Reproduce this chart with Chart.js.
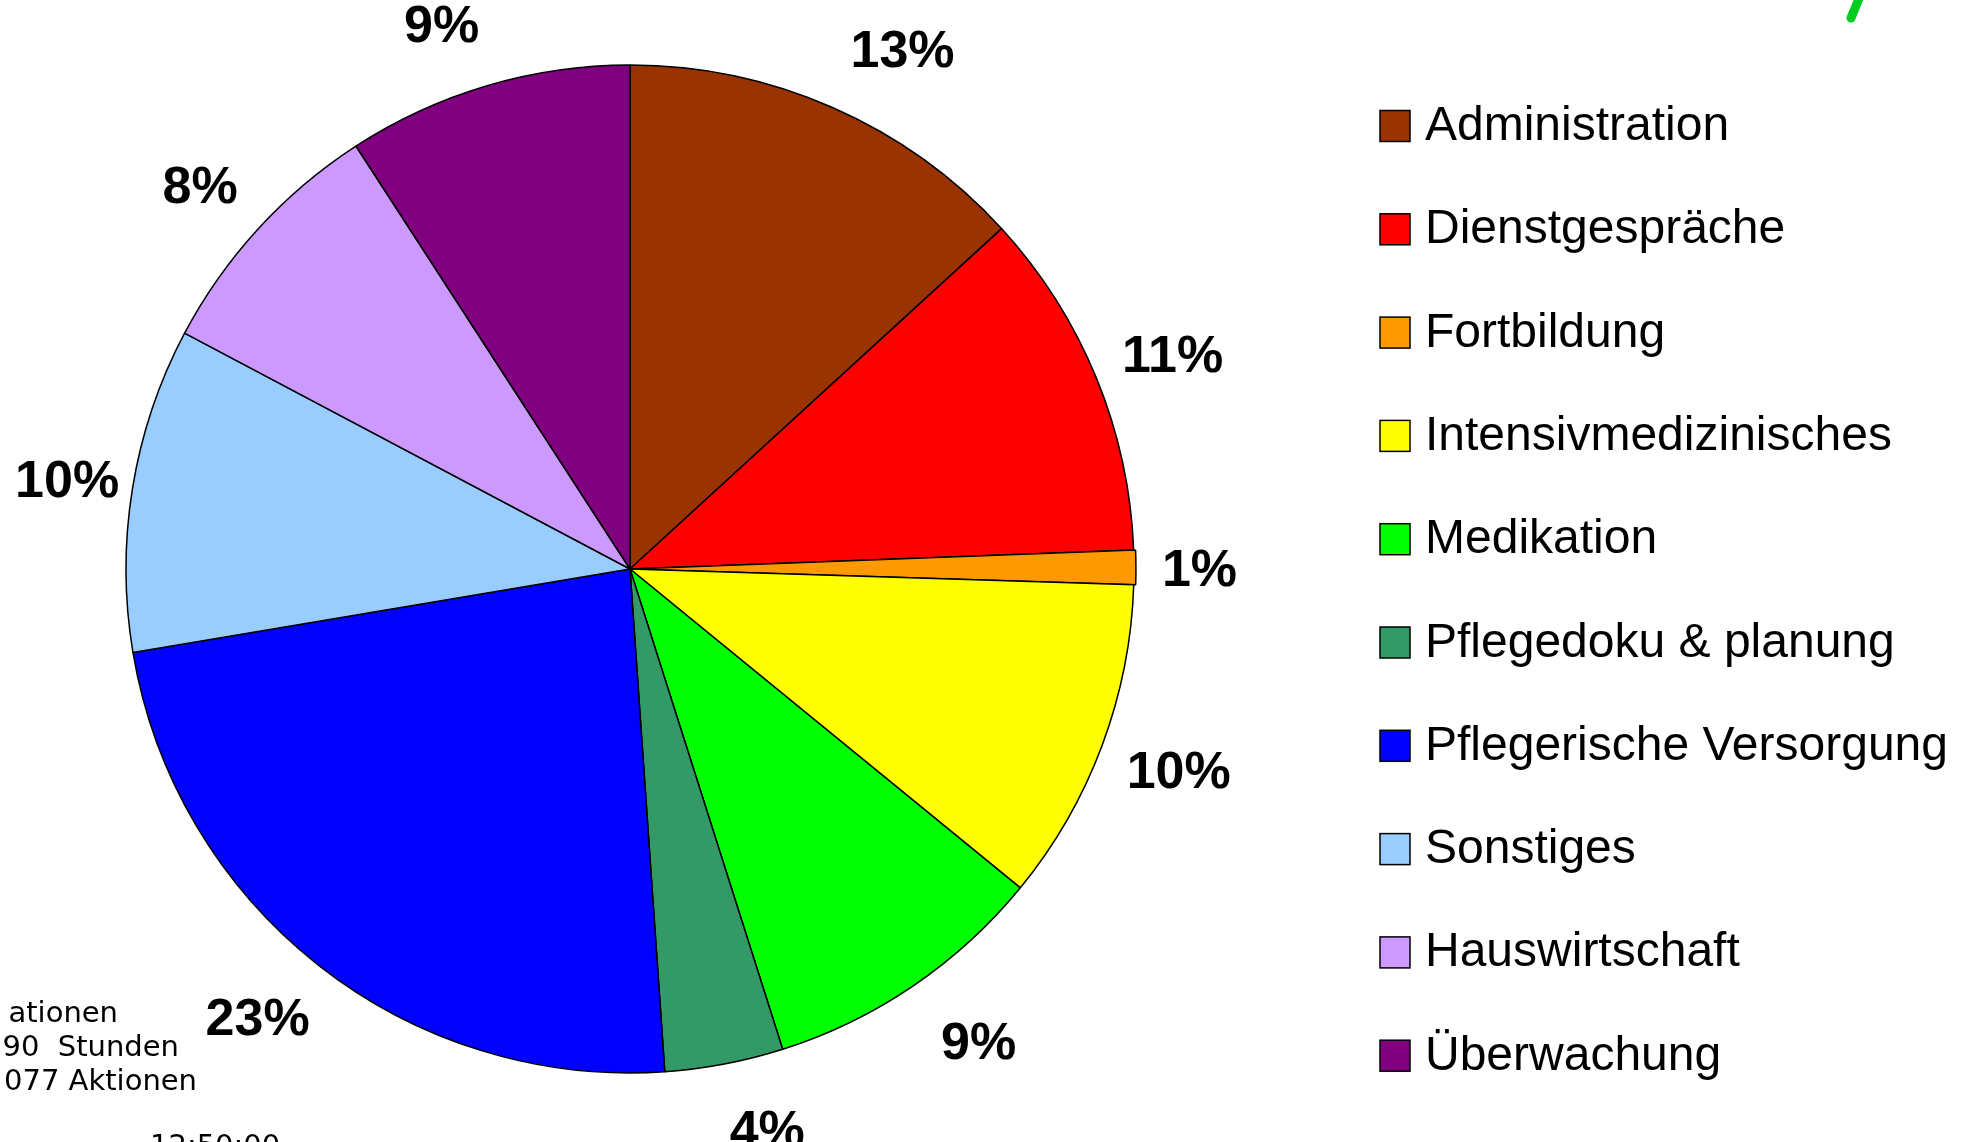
<!DOCTYPE html>
<html>
<head>
<meta charset="utf-8">
<script src="https://cdn.jsdelivr.net/npm/chart.js@4"></script>
<style>
  html, body { margin: 0; padding: 0; background: #fff; }
  #wrap { width: 1968px; height: 1142px; position: relative; }
</style>
</head>
<body>
<div id="wrap"><canvas id="pieChart"></canvas></div>
<script>
const categories = ['Administration', 'Dienstgespräche', 'Fortbildung', 'Intensivmedizinisches', 'Medikation',
    'Pflegedoku & planung', 'Pflegerische Versorgung', 'Sonstiges', 'Hauswirtschaft', 'Überwachung'];
const shares = [13.2, 11.2, 1.1, 10.4, 9.2, 3.8, 23.45, 10.4, 8.1, 9.15];
const sliceColors = ['#993300', '#ff0000', '#ff9900', '#ffff00', '#00ff00',
    '#339966', '#0000ff', '#99ccff', '#cc99ff', '#800080'];
const sliceOffsets = [0, 0, 4, 0, 0, 0, 0, 0, 0, 0];
const footnoteLines = ['ationen', '90  Stunden', '077 Aktionen'];
const timeStamp = '12:50:00';

document.addEventListener('DOMContentLoaded', function() {
    const ctx = document.getElementById('pieChart').getContext('2d');

    // percent labels outside the slices, pushed sideways a bit like the office chart does
    const pctLabels = {
        id: 'pctLabels',
        afterDatasetsDraw(chart) {
            const c = chart.ctx;
            const meta = chart.getDatasetMeta(0);
            const total = shares.reduce((a, b) => a + b, 0);
            c.save();
            c.font = 'bold 52px "Liberation Sans", Arial, sans-serif';
            c.fillStyle = '#000';
            c.textAlign = 'center';
            c.textBaseline = 'alphabetic';
            meta.data.forEach((arc, i) => {
                const p = arc.getProps(['x', 'y', 'startAngle', 'endAngle', 'outerRadius'], true);
                const mid = (p.startAngle + p.endAngle) / 2;
                const txt = Math.round(shares[i] / total * 100) + '%';
                const w = c.measureText(txt).width;
                const r = p.outerRadius * 1.13;
                const cs = Math.cos(mid);
                let x = p.x + cs * r + Math.sign(cs) * (1 - Math.abs(cs)) * w / 2;
                if (cs > 0.2 && cs < 0.99) x += 12;
                const y = p.y + Math.sin(mid) * r;
                c.fillText(txt, x, y + 19);
            });
            c.restore();
        }
    };

    // legend on the right, plus the leftover text bits of the slide
    const sideLegend = {
        id: 'sideLegend',
        afterDraw(chart) {
            const c = chart.ctx;
            c.save();
            c.font = '48px "Liberation Sans", Arial, sans-serif';
            c.textBaseline = 'alphabetic';
            c.textAlign = 'left';
            chart.data.labels.forEach((lab, i) => {
                const cy = 125.5 + i * 103.3;
                c.fillStyle = sliceColors[i];
                c.fillRect(1380, cy - 15, 30, 31);
                c.strokeStyle = '#000';
                c.lineWidth = 1.5;
                c.strokeRect(1380, cy - 15, 30, 31);
                c.fillStyle = '#000';
                c.fillText(lab, 1425, cy + 14.5);
            });

            c.font = '29px "DejaVu Sans", sans-serif';
            c.textAlign = 'right';
            const ends = [118, 179, 197];
            footnoteLines.forEach((t, i) => {
                c.fillText(t, ends[i], 1022 + i * 34);
            });
            c.textAlign = 'left';
            c.fillText(timeStamp, 150, 1155);

            c.strokeStyle = '#00cc22';
            c.lineWidth = 9;
            c.lineCap = 'round';
            c.beginPath();
            c.moveTo(1860, -4);
            c.lineTo(1851, 18);
            c.stroke();
            c.restore();
        }
    };

    const data = {
        labels: categories,
        datasets: [{
            data: shares,
            backgroundColor: sliceColors,
            borderColor: '#000',
            borderWidth: 1.5,
            offset: sliceOffsets,
        }]
    };

    const config = {
        type: 'pie',
        data: data,
        options: {
            responsive: true,
            maintainAspectRatio: false,
            animation: false,
            radius: 504,
            layout: {
                padding: { left: 0, right: 708, top: 0, bottom: 4 }
            },
            plugins: {
                legend: { display: false },
                tooltip: { enabled: false }
            }
        },
        plugins: [pctLabels, sideLegend]
    };

    new Chart(ctx, config);
});
</script>
</body>
</html>
